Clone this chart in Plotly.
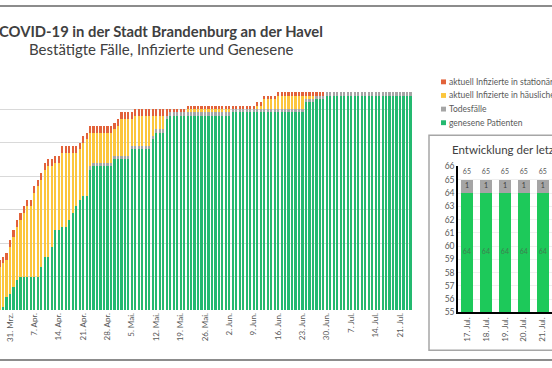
import plotly.graph_objects as go
import pandas as pd

# ---------------- data (main chart) ----------------
dates = pd.date_range("2020-03-28", "2020-07-24").strftime("%Y-%m-%d").tolist()

recovered = [0, 1, 4, 5,
             7, 9, 10, 10, 10, 10, 10, 10, 13, 16, 16, 19, 24, 24, 25, 25, 27, 29, 31, 33, 34, 34, 42, 43, 43, 43, 43, 43, 43, 45,
             45, 45, 45, 45, 48, 48, 48, 48, 48, 48, 51, 53, 53, 53, 57, 58, 58, 58, 58, 58, 58, 58, 58, 58, 58, 58, 58, 58, 58, 58, 58,
             58, 58, 59, 59, 59, 59, 59, 59, 59, 59, 59, 59, 59, 59, 59, 59, 59, 59, 59, 59, 59, 59, 59, 62, 62, 62, 63, 63, 63, 64,
             64, 64, 64, 64, 64, 64, 64, 64, 64, 64, 64, 64, 64, 64, 64, 64, 64, 64, 64, 64, 64, 64, 64, 64]
deaths = [0, 0, 0, 0,
          0, 0, 0, 0, 0, 0, 0, 0, 0, 0, 0, 0, 0, 0, 0, 0, 0, 0, 0, 0, 0, 0, 1, 1, 1, 1, 1, 1, 1, 1,
          1, 1, 1, 1, 1, 1, 1, 1, 1, 1, 1, 1, 1, 1, 1, 1, 1, 1, 1, 1, 1, 1, 1, 1, 1, 1, 1, 1, 1, 1, 1,
          1, 1, 1, 1, 1, 1, 1, 1, 1, 1, 1, 1, 1, 1, 1, 1, 1, 1, 1, 1, 1, 1, 1, 1, 1, 1, 1, 1, 1, 1,
          1, 1, 1, 1, 1, 1, 1, 1, 1, 1, 1, 1, 1, 1, 1, 1, 1, 1, 1, 1, 1, 1, 1, 1]
home = [13, 13, 11, 14,
        15, 16, 17, 19, 21, 21, 25, 27, 26, 26, 27, 24, 20, 20, 22, 22, 20, 18, 16, 15, 16, 17, 10, 9, 9, 9, 9, 9, 9, 8,
        9, 11, 11, 11, 8, 9, 9, 9, 9, 9, 6, 4, 4, 4, 0, 0, 0, 0, 0, 0, 1, 1, 1, 1, 1, 1, 1, 1, 1, 1, 1,
        1, 1, 0, 0, 0, 0, 0, 0, 0, 1, 1, 3, 3, 3, 3, 4, 4, 4, 4, 4, 4, 4, 4, 1, 1, 1, 0, 0, 0, 0,
        0, 0, 0, 0, 0, 0, 0, 0, 0, 0, 0, 0, 0, 0, 0, 0, 0, 0, 0, 0, 0, 0, 0, 0]
hospital = [2, 2, 2, 2,
            2, 2, 2, 2, 2, 2, 2, 2, 2, 2, 2, 2, 2, 2, 2, 2, 2, 2, 2, 2, 2, 2, 2, 2, 2, 2, 2, 2, 2, 2,
            2, 2, 2, 2, 2, 2, 2, 2, 2, 2, 2, 2, 2, 2, 2, 1, 1, 1, 1, 1, 1, 1, 1, 1, 1, 1, 1, 1, 1, 1, 1,
            1, 1, 1, 1, 1, 1, 1, 1, 1, 1, 1, 1, 1, 1, 1, 1, 1, 1, 1, 1, 1, 1, 1, 1, 1, 1, 1, 1, 1, 0,
            0, 0, 0, 0, 0, 0, 0, 0, 0, 0, 0, 0, 0, 0, 0, 0, 0, 0, 0, 0, 0, 0, 0, 0]

tick_dates = ["2020-03-31", "2020-04-07", "2020-04-14", "2020-04-21", "2020-04-28", "2020-05-05",
              "2020-05-12", "2020-05-19", "2020-05-26", "2020-06-02", "2020-06-09", "2020-06-16",
              "2020-06-23", "2020-06-30", "2020-07-07", "2020-07-14", "2020-07-21"]
tick_labels = ["31. Mrz.", "7. Apr.", "14. Apr.", "21. Apr.", "28. Apr.", "5. Mai.", "12. Mai.",
               "19. Mai.", "26. Mai.", "2. Jun.", "9. Jun.", "16. Jun.", "23. Jun.", "30. Jun.",
               "7. Jul.", "14. Jul.", "21. Jul."]

series_names = ["genesene Patienten", "Todesfälle",
                "aktuell Infizierte in häuslicher Quarantäne",
                "aktuell Infizierte in stationärer Behandlung"]

# ---------------- data (inset: last days) ----------------
inset_days = ["17. Jul.", "18. Jul.", "19. Jul.", "20. Jul.", "21. Jul.", "22. Jul.", "23. Jul.", "24. Jul."]
inset_recovered = [64, 64, 64, 64, 64, 64, 64, 64]
inset_deaths = [1, 1, 1, 1, 1, 1, 1, 1]
inset_total = [65, 65, 65, 65, 65, 65, 65, 65]

# ---------------- styling ----------------
W, H = 552, 368
FONT = "Lato"
C_GREEN = "#24b970"
C_GRAY = "#a5a5a5"
C_YELLOW = "#fcc63c"
C_RED = "#e2623a"
C_INSET_GREEN = "#1dc95a"
TXT = "#595959"


def px(x):
    return x / W


def py(y):
    return 1 - y / H


fig = go.Figure()

for vals, name, col in [(recovered, series_names[0], C_GREEN),
                        (deaths, series_names[1], C_GRAY),
                        (home, series_names[2], C_YELLOW),
                        (hospital, series_names[3], C_RED)]:
    fig.add_trace(go.Bar(x=dates, y=vals, name=name, marker=dict(color=col, line=dict(width=0)),
                         xaxis="x", yaxis="y", showlegend=False))

# inset
fig.add_trace(go.Bar(x=inset_days, y=inset_recovered, marker=dict(color=C_INSET_GREEN, line=dict(width=0)),
                     xaxis="x2", yaxis="y2", showlegend=False))
fig.add_trace(go.Bar(x=inset_days, y=inset_deaths, marker=dict(color=C_GRAY, line=dict(width=0)),
                     xaxis="x2", yaxis="y2", showlegend=False))
y_lo = 55
fig.add_trace(go.Scatter(x=inset_days, y=[(y_lo + v) / 2 for v in inset_recovered],
                         text=[str(v) for v in inset_recovered], mode="text",
                         textfont=dict(family=FONT, size=7, color="#3f7f50"),
                         xaxis="x2", yaxis="y2", showlegend=False))
fig.add_trace(go.Scatter(x=inset_days, y=[r + d / 2 for r, d in zip(inset_recovered, inset_deaths)],
                         text=[str(v) for v in inset_deaths], mode="text",
                         textfont=dict(family=FONT, size=7, color="#404040"),
                         xaxis="x2", yaxis="y2", showlegend=False))
fig.add_trace(go.Scatter(x=inset_days, y=[t + 0.55 for t in inset_total],
                         text=[str(v) for v in inset_total], mode="text",
                         textfont=dict(family=FONT, size=7, color="#595959"),
                         xaxis="x2", yaxis="y2", showlegend=False))

shapes = [
    # outer frame lines
    dict(type="line", xref="paper", yref="paper", x0=0, x1=1, y0=py(1), y1=py(1),
         line=dict(color="#8c8c8c", width=2)),
    dict(type="line", xref="paper", yref="paper", x0=0, x1=1, y0=py(365), y1=py(365),
         line=dict(color="#8c8c8c", width=2)),
    # inset box
    dict(type="rect", xref="paper", yref="paper", x0=px(429), x1=px(600), y0=py(355), y1=py(134),
         line=dict(color="#a6a6a6", width=1.5), fillcolor="rgba(0,0,0,0)", layer="below"),
]

annotations = [
    dict(text="<b>COVID-19 in der Stadt Brandenburg an der Havel</b>", x=px(161), y=py(27),
         xref="paper", yref="paper", showarrow=False, xanchor="center", yanchor="middle",
         font=dict(family=FONT, size=14.8, color="#404040")),
    dict(text="Bestätigte Fälle, Infizierte und Genesene", x=px(161), y=py(45),
         xref="paper", yref="paper", showarrow=False, xanchor="center", yanchor="middle",
         font=dict(family=FONT, size=15, color="#404040")),
    dict(text="Entwicklung der letzten 8 Tage", x=px(450), y=py(149),
         xref="paper", yref="paper", showarrow=False, xanchor="left", yanchor="middle",
         font=dict(family=FONT, size=11.5, color="#404040")),
]

# legend (drawn manually, it is clipped at the right edge like the reference)
legend_items = [(series_names[3], C_RED), (series_names[2], C_YELLOW),
                (series_names[1], C_GRAY), (series_names[0], C_GREEN)]
leg_y = [79, 93, 107, 121]
for (name, col), yy in zip(legend_items, leg_y):
    shapes.append(dict(type="rect", xref="paper", yref="paper", x0=px(441), x1=px(446),
                       y0=py(yy + 2.5), y1=py(yy - 2.5), fillcolor=col, line=dict(width=0)))
    annotations.append(dict(text=name, x=px(447), y=py(yy), xref="paper", yref="paper",
                            showarrow=False, xanchor="left", yanchor="middle",
                            font=dict(family=FONT, size=8.5, color=TXT)))

fig.update_layout(
    width=W, height=H,
    margin=dict(l=0, r=0, t=0, b=0),
    paper_bgcolor="white", plot_bgcolor="white",
    barmode="stack", bargap=0.38,
    showlegend=False,
    font=dict(family=FONT, color=TXT),
    xaxis=dict(domain=[0, px(412)], type="date",
               range=["2020-03-28 03:04", "2020-07-24 10:45"],
               tickvals=tick_dates, ticktext=tick_labels, tickangle=-90,
               tickfont=dict(family=FONT, size=8, color=TXT),
               showgrid=False, zeroline=False, showline=False, ticks=""),
    yaxis=dict(domain=[py(314), py(72.5)], range=[0, 70], dtick=10,
               showgrid=True, gridcolor="#d9d9d9", gridwidth=1,
               zeroline=False, showticklabels=False, ticks=""),
    xaxis2=dict(domain=[px(458), 1], type="category", range=[-0.47, 4.48],
                anchor="y2", tickangle=-90, tickfont=dict(family=FONT, size=8, color=TXT),
                showline=True, linecolor="black", linewidth=1.5, showgrid=False, ticks=""),
    yaxis2=dict(domain=[py(316), py(166)], range=[55, 66], dtick=1, anchor="x2",
                tickfont=dict(family=FONT, size=8.5, color=TXT),
                showline=True, linecolor="black", linewidth=1.5,
                showgrid=True, gridcolor="#efefef", zeroline=False, ticks=""),
    shapes=shapes,
    annotations=annotations,
)

fig.write_html("out.html", config={"displayModeBar": False},
               post_script="document.body.style.margin='0px';document.body.style.overflow='hidden';")
